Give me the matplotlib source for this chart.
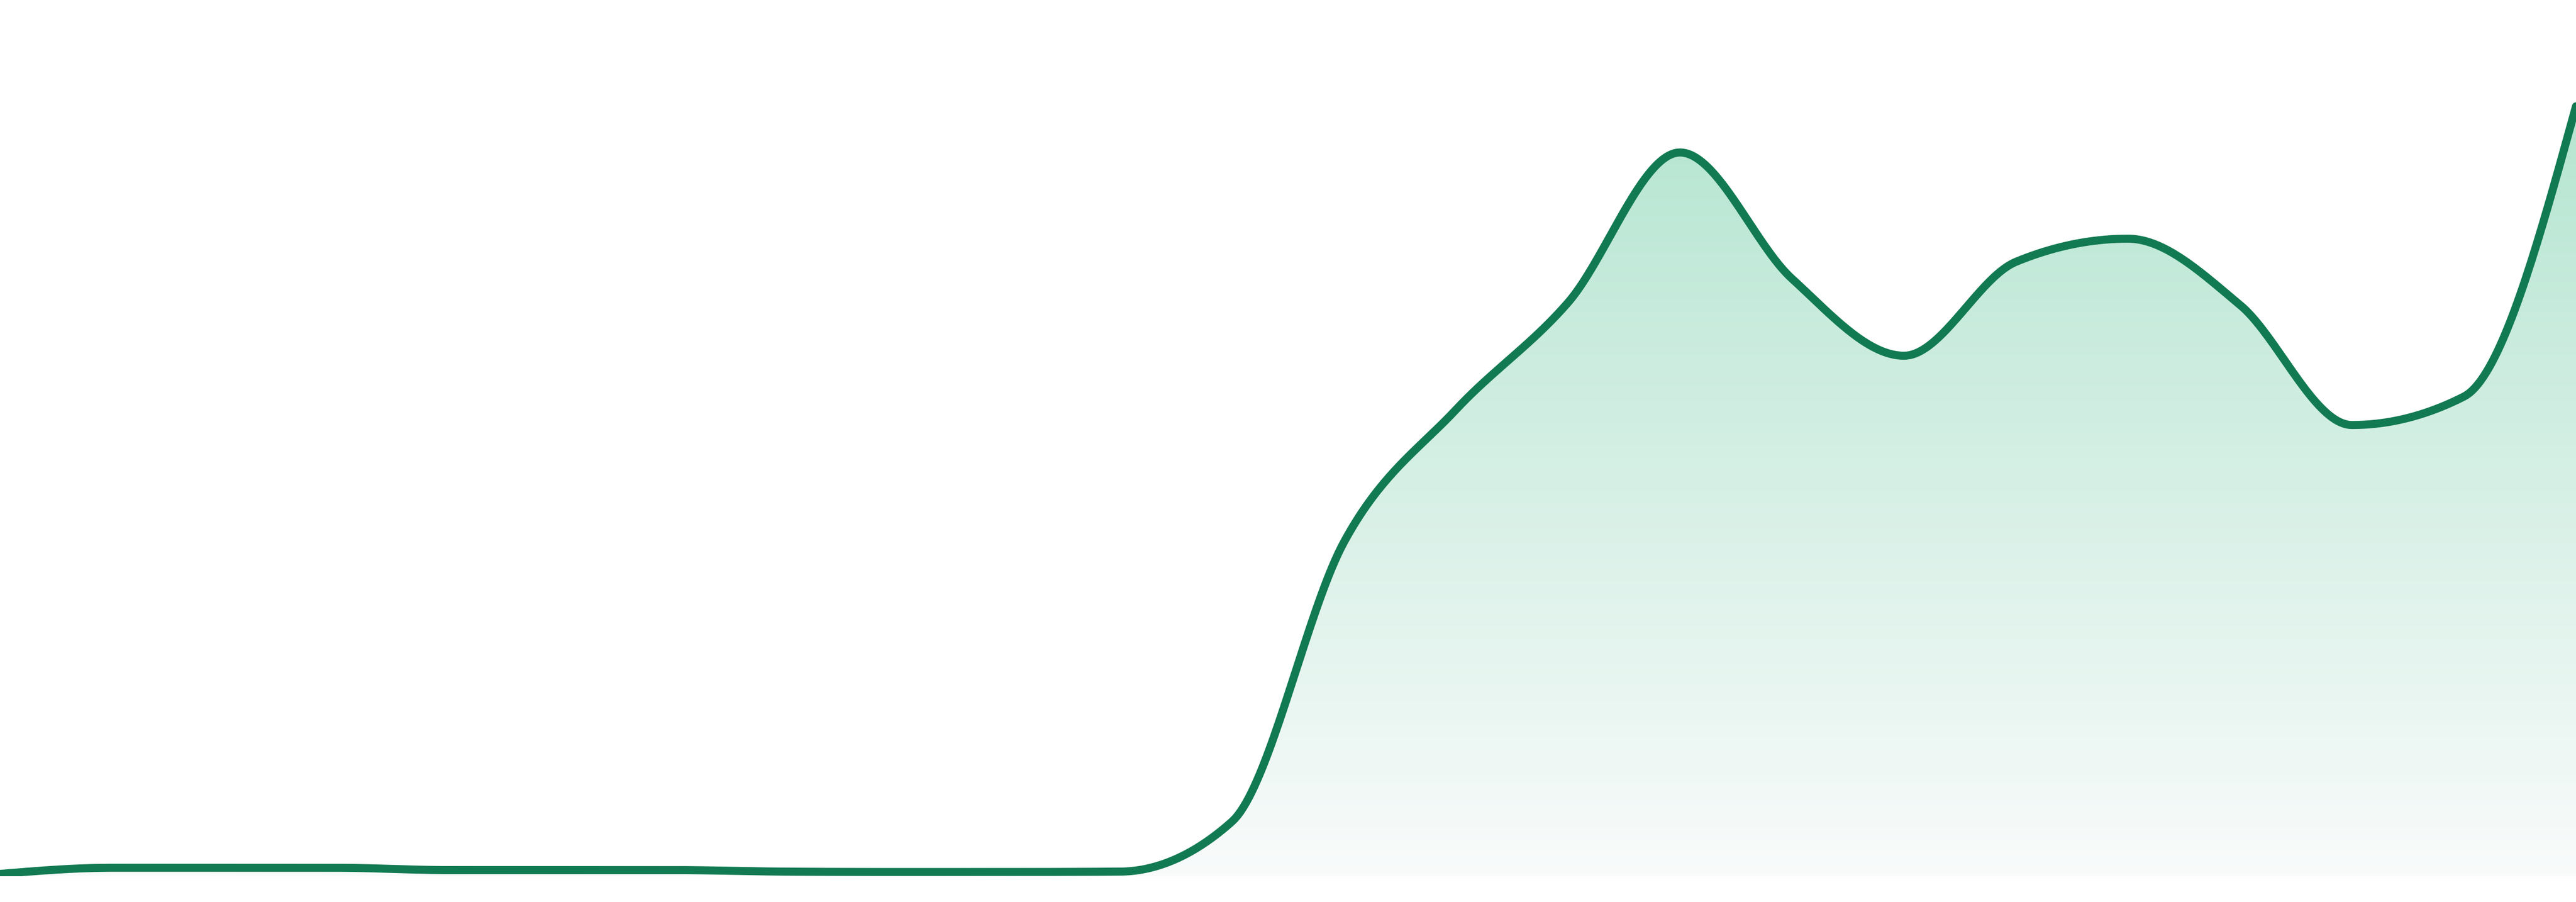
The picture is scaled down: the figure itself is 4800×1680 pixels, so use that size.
import numpy as np
import matplotlib
matplotlib.use("Agg")
import matplotlib.pyplot as plt
from matplotlib.colors import LinearSegmentedColormap
from matplotlib.patches import Polygon

# one value per step
steps = list(range(24))
values = [0.3, 1.1, 1.1, 1.1, 0.8, 0.8, 0.8, 0.6, 0.55, 0.55, 0.6, 7.1,
          43.4, 60.6, 74.5, 94.0, 77.6, 67.6, 79.8, 82.8, 74.2, 58.6, 62.3, 100.0]

line_color = "#127a52"
fill_top = "#b5e5d1"
fill_bottom = "#f9fbfb"


def monotone_x(x, y, n=40):
    # same curve as d3.curveMonotoneX
    x = np.asarray(x, float)
    y = np.asarray(y, float)
    h = np.diff(x)
    s = np.diff(y) / h
    t = np.zeros(len(x))
    for i in range(1, len(x) - 1):
        p = (s[i - 1] * h[i] + s[i] * h[i - 1]) / (h[i - 1] + h[i])
        t[i] = (np.sign(s[i - 1]) + np.sign(s[i])) * min(abs(s[i - 1]), abs(s[i]), 0.5 * abs(p))
    t[0] = (3 * s[0] - t[1]) / 2
    t[-1] = (3 * s[-1] - t[-2]) / 2
    xs, ys = [], []
    for i in range(len(x) - 1):
        u = np.linspace(0, 1, n, endpoint=False)
        dx = h[i]
        h00 = 2 * u**3 - 3 * u**2 + 1
        h10 = u**3 - 2 * u**2 + u
        h01 = -2 * u**3 + 3 * u**2
        h11 = u**3 - u**2
        xs.append(x[i] + u * dx)
        ys.append(h00 * y[i] + h10 * dx * t[i] + h01 * y[i + 1] + h11 * dx * t[i + 1])
    xs.append([x[-1]])
    ys.append([y[-1]])
    return np.concatenate(xs), np.concatenate(ys)


fig = plt.figure(figsize=(16, 5.6), dpi=300)
ax = fig.add_axes([0, 48 / 1680, 1, 1 - 48 / 1680])
ax.set_xlim(0, 23)
ax.set_ylim(0, 113.8)
ax.axis("off")

cx, cy = monotone_x(steps, values)

# gradient under the curve
cmap = LinearSegmentedColormap.from_list("g", [fill_bottom, fill_top])
grad = np.linspace(0, 1, 256).reshape(-1, 1)
img = ax.imshow(grad, cmap=cmap, origin="lower", aspect="auto",
                extent=(0, 23, 0, max(values)), zorder=1)
poly = Polygon(np.column_stack([np.r_[cx, cx[-1], cx[0]], np.r_[cy, 0, 0]]),
               closed=True, facecolor="none", edgecolor="none")
ax.add_patch(poly)
img.set_clip_path(poly)

ax.plot(cx, cy, color=line_color, lw=3.6, solid_capstyle="round",
        solid_joinstyle="round", zorder=3)

fig.savefig("out.png", dpi=300, facecolor="white")
